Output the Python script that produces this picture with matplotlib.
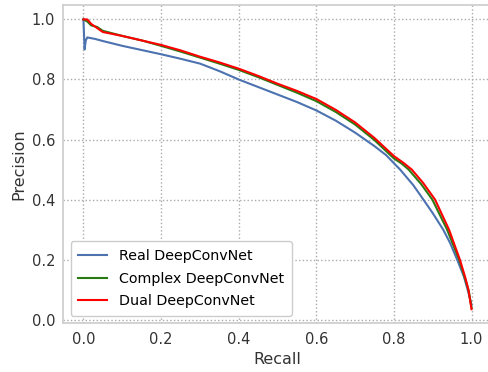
import matplotlib
matplotlib.use("Agg")
import matplotlib.pyplot as plt
import numpy as np

recall_real = [0.0, 0.003, 0.006, 0.01, 0.03, 0.05, 0.1, 0.15, 0.2, 0.25, 0.3, 0.35, 0.4, 0.45, 0.5, 0.55, 0.6, 0.65, 0.7, 0.75, 0.78, 0.816, 0.85, 0.876, 0.9, 0.927, 0.945, 0.963, 0.98, 0.99, 1.0]
prec_real = [1.0, 0.90, 0.93, 0.94, 0.935, 0.928, 0.912, 0.898, 0.884, 0.869, 0.853, 0.828, 0.80, 0.775, 0.75, 0.725, 0.697, 0.663, 0.623, 0.578, 0.548, 0.50, 0.448, 0.40, 0.355, 0.30, 0.255, 0.20, 0.145, 0.10, 0.05]

recall_complex = [0.0, 0.01, 0.02, 0.035, 0.05, 0.1, 0.15, 0.2, 0.25, 0.3, 0.35, 0.4, 0.45, 0.5, 0.55, 0.6, 0.65, 0.7, 0.75, 0.8, 0.82, 0.838, 0.87, 0.899, 0.937, 0.968, 0.985, 0.993, 1.0]
prec_complex = [1.0, 0.993, 0.98, 0.975, 0.962, 0.945, 0.93, 0.912, 0.893, 0.873, 0.853, 0.832, 0.808, 0.782, 0.756, 0.728, 0.692, 0.65, 0.598, 0.537, 0.52, 0.50, 0.452, 0.40, 0.30, 0.20, 0.13, 0.095, 0.04]

recall_dual = [0.0, 0.01, 0.02, 0.05, 0.1, 0.15, 0.2, 0.25, 0.3, 0.35, 0.4, 0.45, 0.5, 0.55, 0.6, 0.65, 0.7, 0.75, 0.8, 0.825, 0.846, 0.875, 0.906, 0.942, 0.97, 0.984, 0.992, 1.0]
prec_dual = [1.0, 1.0, 0.985, 0.958, 0.945, 0.93, 0.915, 0.897, 0.876, 0.857, 0.836, 0.812, 0.786, 0.762, 0.735, 0.699, 0.657, 0.605, 0.545, 0.522, 0.50, 0.456, 0.40, 0.30, 0.20, 0.14, 0.10, 0.035]

labels = ["Real DeepConvNet", "Complex DeepConvNet", "Dual DeepConvNet"]
colors = ["#4c72b0", "#2a7a14", "#ff0000"]

plt.rcParams['font.family'] = ['DejaVu Sans']
fig, ax = plt.subplots(figsize=(4.88, 3.72), dpi=100)
fig.subplots_adjust(left=0.130, right=1.006, top=0.9866, bottom=0.1304)

for r, p, lab, c in zip([recall_real, recall_complex, recall_dual],
                        [prec_real, prec_complex, prec_dual], labels, colors):
    ax.plot(r, p, color=c, lw=1.5, label=lab)

ax.set_xlim(-0.0515, 1.05)
ax.set_ylim(-0.0125, 1.048)
ax.set_xticks([0.0, 0.2, 0.4, 0.6, 0.8, 1.0])
ax.set_yticks([0.0, 0.2, 0.4, 0.6, 0.8, 1.0])
ax.grid(True, linestyle=':', color='#aaaaaa', lw=1)
for s in ax.spines.values():
    s.set_color('#cccccc')
    s.set_linewidth(1.2)
ax.tick_params(length=0, labelsize=10.5, colors='#333333', pad=6)
ax.set_xlabel("Recall", fontsize=11.5, color='#333333')
ax.set_ylabel("Precision", fontsize=11.5, color='#333333')
ax.legend(loc='lower left', fontsize=10.3, frameon=True, edgecolor='#cccccc', framealpha=1,
          handlelength=2, borderpad=0.55, labelspacing=0.6)

fig.savefig("out.png", dpi=100)
